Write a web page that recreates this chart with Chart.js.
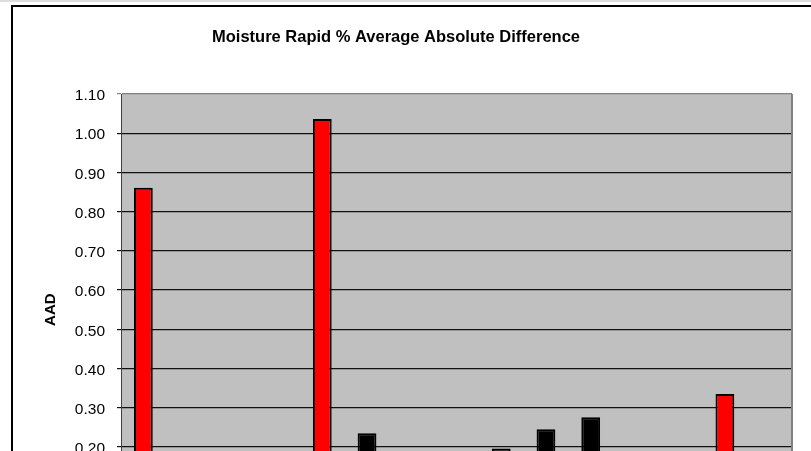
<!DOCTYPE html>
<html>
<head>
<meta charset="utf-8">
<script src="https://cdn.jsdelivr.net/npm/chart.js@4.4.1/dist/chart.umd.min.js"></script>
<style>
    html, body { margin: 0; padding: 0; overflow: hidden; background: #fff; width: 811px; height: 451px; }
    #topBand { position: absolute; left: 0; top: 0; width: 811px; height: 2px; background: #dcdcdc; }
    #frame { position: absolute; left: 11px; top: 5px; width: 900px; height: 700px; border: 2px solid #000; box-sizing: border-box; }
    #wrap { position: absolute; left: 0; top: 0; width: 811px; height: 600px; }
</style>
</head>
<body>
<div id="topBand"></div>
<div id="frame"></div>
<div id="wrap"><canvas id="aadChart" width="811" height="600"></canvas></div>
<script>
// データ
const labs = ['1', '2', '3', '4', '5', '6', '7', '8', '9', '10', '11', '12', '13', '14', '15'];
const aadValues = [0.861, 0.12, 0.10, 0.15, 1.036, 0.235, 0.14, 0.11, 0.196, 0.245, 0.276, 0.13, 0.16, 0.335, 0.12];
const barColors = ['#ff0000', '#000000', '#000000', '#000000', '#ff0000', '#000000', '#000000', '#000000',
    '#000000', '#000000', '#000000', '#000000', '#000000', '#ff0000', '#000000'];
const yMin = 0;
const yMax = 1.1;
const yStep = 0.1;

const plotColor = '#c0c0c0';
const frameColor = '#808080';

Chart.defaults.font.family = "'Liberation Sans', Arial, sans-serif";
Chart.defaults.color = '#000';

// プロットエリアの背景と右枠
const plotFrame = {
    id: 'plotFrame',
    beforeDraw(chart) {
        const { ctx, chartArea: a } = chart;
        ctx.save();
        ctx.fillStyle = plotColor;
        ctx.fillRect(a.left, a.top, a.right - a.left, a.bottom - a.top);
        ctx.restore();
    },
    afterDraw(chart) {
        const { ctx, chartArea: a } = chart;
        ctx.save();
        ctx.strokeStyle = frameColor;
        ctx.lineWidth = 2;
        ctx.beginPath();
        ctx.moveTo(a.right, a.top);
        ctx.lineTo(a.right, a.bottom);
        ctx.stroke();
        ctx.restore();
    }
};

new Chart(document.getElementById('aadChart').getContext('2d'), {
    type: 'bar',
    data: {
        labels: labs,
        datasets: [{
            label: 'AAD',
            data: aadValues,
            backgroundColor: barColors,
            borderColor: '#000',
            borderWidth: 2,
            borderSkipped: false,
            categoryPercentage: 1,
            barPercentage: 0.42,
        }]
    },
    options: {
        responsive: false,
        animation: false,
        layout: { padding: { left: 0, right: 19, top: 0, bottom: 34.6 } },
        plugins: {
            legend: { display: false },
            tooltip: { enabled: false },
            title: {
                display: true,
                text: 'Moisture Rapid % Average Absolute Difference',
                color: '#000',
                font: { size: 16.5, weight: 'bold' },
                padding: { top: 27.6, bottom: 46.6 }
            }
        },
        scales: {
            x: {
                grid: { display: false },
                border: { color: '#000' },
                ticks: { font: { size: 13 }, maxRotation: 0, autoSkip: false },
                afterFit: (s) => { s.height = 40; }
            },
            y: {
                min: yMin,
                max: yMax,
                ticks: {
                    stepSize: yStep,
                    font: { size: 15.5 },
                    padding: 12,
                    labelOffset: 2,
                    callback: (v) => Number(v).toFixed(2)
                },
                grid: {
                    color: (ctx) => ctx.index === 11 ? frameColor : '#111',
                    lineWidth: 1.2,
                    tickLength: 4
                },
                border: { color: '#404040', width: 1 },
                title: {
                    display: true,
                    text: 'AAD',
                    font: { size: 15, weight: 'bold' },
                    padding: { top: 42, bottom: 0 }
                },
                afterFit: (s) => { s.width = 121; }
            }
        }
    },
    plugins: [plotFrame]
});
</script>
</body>
</html>
